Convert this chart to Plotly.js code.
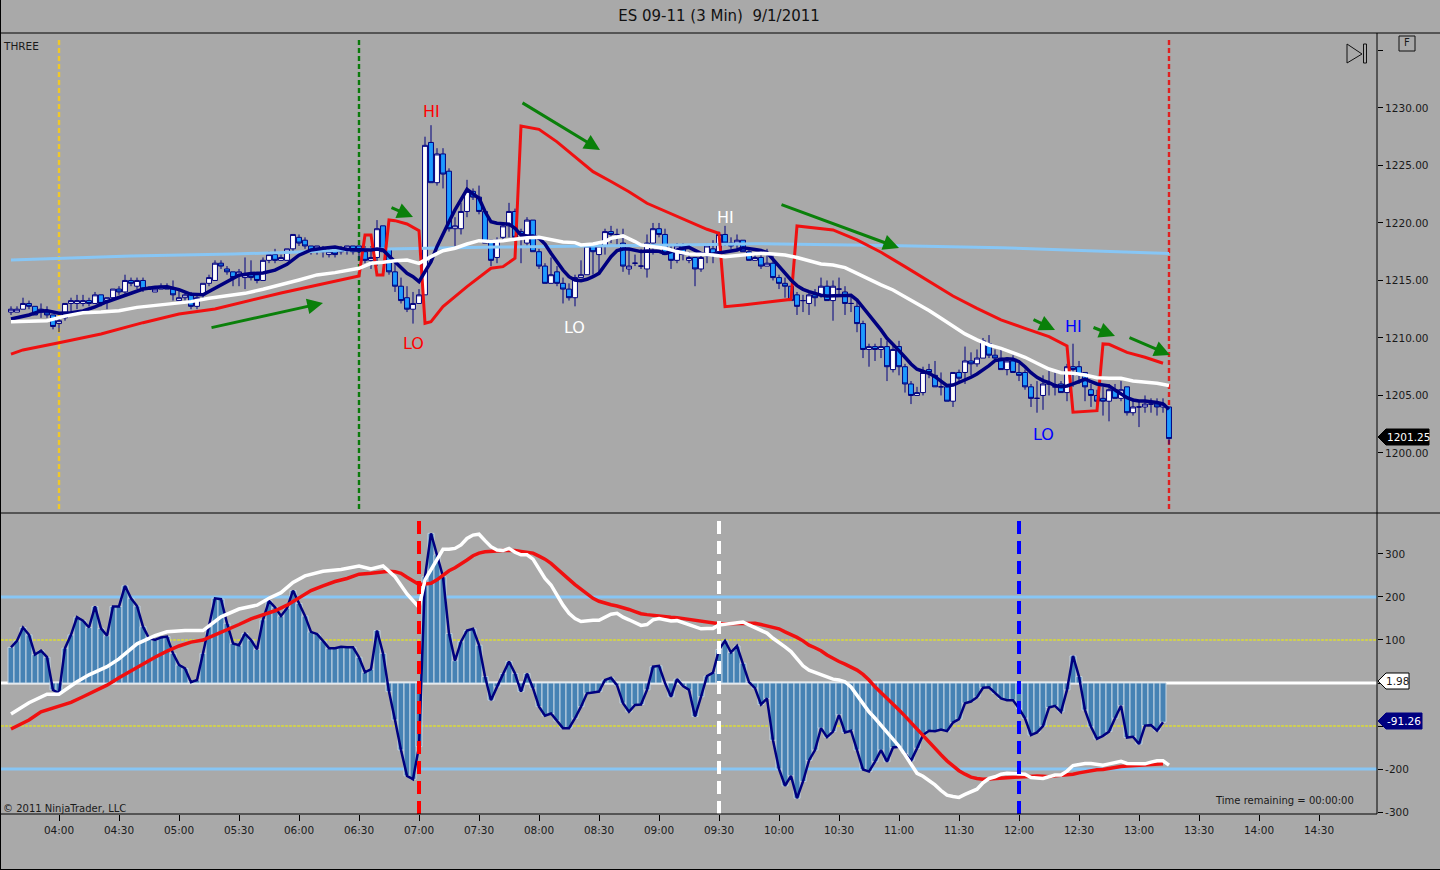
<!DOCTYPE html>
<html><head><meta charset="utf-8">
<script src="https://cdn.plot.ly/plotly-3.0.1.min.js"></script>
<style>html,body{margin:0;padding:0;background:#A9A9A9;overflow:hidden}#c{width:1440px;height:870px}</style>
</head><body><div id="c"></div>
<script>
// ---- time scale: bar number -> minutes after midnight
const firstBarMinute = 216, barMinutes = 3;
const barTime = k => firstBarMinute + barMinutes * k;

// ---- candles
const opens = [1212.25,1212.25,1212.5,1213,1212.75,1212.25,1212.25,1212,1211.25,1211.75,
1213,1213,1213,1213.25,1213,1213.75,1213.25,1213.5,1214.25,1214,
1215,1214.5,1215,1214.25,1214,1214.25,1214.5,1214.25,1213.25,1213.5,
1213.75,1212.75,1213.75,1214.75,1215,1216.5,1216,1215.75,1215.5,1215.25,
1215.5,1215.5,1215,1216.75,1217.25,1216.75,1216.75,1217.75,1218.75,1218.5,
1218,1217.75,1217.75,1217.25,1217.5,1217.5,1217.75,1218,1218,1217.5,
1216.75,1217,1219.75,1217.75,1215.75,1214.5,1213.5,1212.5,1213,1213.75,
1227,1223.5,1226,1224.5,1219.5,1219.5,1221,1222.75,1222.25,1221,
1218.5,1217,1218.75,1219.75,1221,1219.25,1218.25,1220.25,1217.5,1216.25,
1214.75,1215.75,1214.75,1214.25,1213.5,1215.25,1215.5,1218,1217.25,1218,
1219.25,1219,1218.25,1216,1216.5,1216.25,1216,1218.25,1219.5,1219,
1217.5,1216.75,1218,1216.75,1217,1216,1217.25,1217.75,1217.5,1219,
1218.25,1218.25,1218.5,1217.5,1216.75,1217,1216.25,1216.5,1215.25,1214.75,
1214.5,1213.75,1213.25,1213,1213.75,1213.75,1214.5,1213.25,1214.25,1214,
1213,1212.75,1211.25,1209,1209.25,1209,1209.25,1207.25,1209.25,1207.5,
1206,1205,1205.25,1207.25,1206.75,1205.75,1205.75,1204.5,1207,1207,
1208,1207.75,1208.25,1209.5,1208.5,1208.25,1207.25,1208,1207,1207,
1205.75,1204.75,1205,1206,1205.75,1206,1205.25,1207.5,1207.5,1207,
1205.5,1205,1204.75,1204.5,1205.5,1204.75,1205.75,1203.5,1204,1204,
1204.25,1204.25,1204,1204];
const highs = [1212.75,1212.75,1213.5,1213.25,1212.75,1213,1212.75,1212,1211.75,1213,
1213.5,1213.75,1213.75,1213.5,1214,1213.75,1213.5,1214.25,1214.5,1215.5,
1215.25,1215.25,1215.25,1214.5,1214.5,1214.75,1214.75,1215,1214.25,1214,
1214,1213.75,1214.75,1215.5,1216.75,1216.75,1216.25,1215.75,1216,1217,
1216.75,1215.75,1217,1217.5,1217.75,1217.25,1217.75,1219,1219,1218.75,
1218,1218,1218,1217.75,1218,1218,1218,1218,1218,1218,
1218,1220.25,1219.75,1217.75,1216.5,1215.25,1214.5,1214,1214.25,1227.5,
1228.5,1226.5,1226.5,1224.75,1220.5,1221.75,1223.75,1223,1223.25,1221,
1218.5,1218.75,1220,1221.75,1221.25,1219.5,1220.5,1220.25,1217.75,1216.5,
1217,1216.25,1215.25,1214.75,1215.5,1216.75,1218,1218.25,1218.25,1219.5,
1219.75,1219.5,1219.5,1217.75,1217.25,1217.75,1219,1220,1220,1219.5,
1218,1218.25,1218.25,1217.5,1217,1217.25,1218.25,1218.5,1219.25,1219.75,
1218.75,1219,1218.5,1217.75,1217.25,1217.5,1217.75,1217.25,1215.5,1215.25,
1214.5,1214,1213.75,1214,1214.25,1215.25,1215,1215,1215.25,1214.5,
1213.75,1213.25,1211.5,1209.5,1209.5,1210,1209.75,1209.5,1209.75,1207.75,
1206.25,1205.75,1207.5,1207.75,1208,1207,1205.75,1207,1207.25,1209.25,
1208.75,1209,1210,1210.25,1209,1209,1208.25,1208.5,1207.75,1207.25,
1206,1206.25,1206.75,1207.25,1207,1206.25,1207.75,1209.5,1208,1207,
1206,1205.5,1205.75,1206,1206,1206.25,1205.75,1204.75,1204.5,1205,
1204.75,1204.75,1204.75,1204];
const lows = [1212,1212.25,1212.5,1212.5,1212,1211.75,1211.75,1210.75,1210.5,1211.5,
1212,1212.5,1212.75,1212.75,1213,1212.75,1212.5,1213.25,1213.75,1213.75,
1214.5,1214.25,1214,1214.25,1214,1214.25,1214.25,1213.25,1213.25,1213.25,
1212.5,1212.5,1213.5,1214.5,1215,1216,1215.5,1214.5,1214.5,1214.25,
1215,1214.75,1215,1216.5,1216.5,1216.75,1216.75,1217.5,1218,1217.75,
1217.25,1217.25,1217,1217,1217,1217.25,1217.25,1217.25,1216.75,1216.5,
1216,1216.25,1217.5,1215.5,1214,1213,1212.25,1211.25,1213,1213.75,
1223.5,1223.25,1223,1219.25,1218,1219,1220.5,1222,1220.75,1218.25,
1216.25,1216.5,1218.5,1218.75,1218.75,1216.5,1218,1217.5,1216,1214.75,
1214.75,1214.5,1213,1213.25,1212.75,1215.25,1215.5,1215.5,1215.75,1217.25,
1218.25,1218,1215.75,1215.5,1216.25,1216,1215.25,1217.25,1218.75,1217.25,
1216,1216.5,1216.75,1216.5,1214.5,1215.75,1216.5,1216.5,1217,1218,
1217.75,1217.75,1217.5,1216.75,1216.75,1216,1216.25,1215,1214.25,1213.5,
1213.25,1212,1212.25,1212,1212.75,1213.5,1213.25,1211.5,1213.75,1212,
1212.25,1210.5,1208.25,1207.5,1208,1208.25,1206.25,1207,1206.75,1205.25,
1204.25,1205,1205,1206.5,1205.75,1205,1204.5,1204,1206.25,1206,
1206.75,1207.5,1208.25,1208.25,1208,1207.25,1206.75,1207,1206.25,1205.5,
1204,1203.5,1203.75,1205,1205,1205.25,1204.5,1205.75,1206,1204.5,
1204,1204.25,1203.25,1202.75,1204.75,1204.5,1203.25,1203.25,1202.25,1203.5,
1203.5,1203.25,1203.5,1200.75];
const closes = [1212.5,1212.5,1213,1212.75,1212,1212.5,1212,1211,1211.5,1213,
1213.25,1213.25,1213.25,1213,1213.75,1213,1213.5,1214.25,1214,1215,
1214.75,1215,1214.25,1214.25,1214.25,1214.5,1214.25,1213.75,1213.5,1213.75,
1212.75,1213.5,1214.75,1215.25,1216.5,1216.25,1215.75,1215.25,1215.75,1215.5,
1215.25,1215,1216.75,1217.25,1216.75,1217,1217.75,1219,1218.25,1218,
1217.5,1218,1217.5,1217.5,1217.25,1217.75,1218,1217.5,1217.5,1216.75,
1217,1219.5,1217.5,1215.75,1214.5,1213.25,1212.5,1213,1213.75,1226.75,
1223.5,1226,1224.25,1219.5,1219.75,1221,1222.75,1222.25,1221,1218.25,
1216.75,1218.5,1219.75,1221,1218.75,1219,1220.25,1217.5,1216.25,1214.75,
1215.5,1214.75,1214.25,1213.5,1215.25,1215.5,1218,1217.5,1218,1219.25,
1219,1219,1216.25,1216.25,1216.5,1216.25,1218.25,1219.5,1219,1217.25,
1216.75,1218,1217.25,1217,1216,1217,1218,1217.25,1219,1218.25,
1218,1218.5,1217.5,1216.75,1217,1216.25,1216.5,1215.25,1214.75,1214.5,
1213.25,1212.75,1213.25,1213.75,1213.5,1214.5,1213.25,1214.5,1214.25,1213,
1213,1211.25,1209,1209.25,1209,1209.25,1207.5,1209,1207.5,1206,
1205,1205.25,1207,1207,1205.75,1205.75,1204.5,1207,1206.5,1208,
1207.75,1208.25,1209.75,1208.5,1208.25,1207.25,1208,1207,1206.75,1205.75,
1204.75,1204.75,1206,1206,1205.75,1205.25,1207.5,1207.25,1206.75,1205.75,
1205,1204.5,1204.5,1205.5,1204.75,1205.5,1203.5,1204,1204,1204.25,
1204.25,1204,1204.25,1201.25];

// ---- price panel lines (bar numbers and prices)
const skyBars = [0,20,37,47,58,68,81,114,124,146,165,182,193];
const skyPrices = [1216.78,1217.13,1217.3,1217.45,1217.7,1217.8,1217.9,1218.1,1218.2,1218.05,1217.85,1217.55,1217.35];

const navyBars = [0,3,5,6,8,10,12,14,16,18,20,22,24,26,28,30,32,34,36,38,40,42,44,46,48,50,52,54,56,58,
59,60,61,62,63,64,65,66,67,68,69,70,71,72,73,74,75,76,77,78,79,80,81,82,83,84,85,86,87,88,89,90,91,92,93,94,95,96,97,98,99,100,
101,102,103,104,105,106,107,108,109,110,111,112,113,114,115,116,117,118,119,120,121,122,123,124,125,126,127,128,129,130,
131,132,133,134,135,136,137,138,139,140,141,142,143,144,145,146,147,148,149,150,151,152,153,154,155,156,157,158,159,160,
161,162,163,164,165,166,167,168,169,170,171,172,173,174,175,176,177,178,179,180,181,182,183,184,185,186,187,188,189,190,191,192,193];
const navyPrices = [1211.65,1212,1212.35,1212.37,1212.15,1212.2,1212.35,1212.7,1213.15,1213.5,1213.9,1214.25,1214.4,1214.45,1214.2,1213.8,1213.75,1214.3,1214.9,1215.45,1215.6,1215.65,1215.9,1216.4,1217.2,1217.65,1217.8,1217.9,1217.7,1217.65,
1217.65,1217.65,1217.74,1217.65,1217.13,1216.63,1216.06,1215.62,1215.33,1214.9,1215.77,1216.63,1217.94,1219.1,1220.1,1221.13,1222,1222.93,1222.52,1222.15,1220.99,1220.1,1219.97,1219.97,1219.9,1219.54,1218.96,1218.87,1218.87,1218.67,1218.17,1217.36,1216.63,1215.9,1215.33,1215.04,1214.98,1215.1,1215.33,1215.62,1216.35,1217.07,
1217.59,1217.74,1217.74,1217.59,1217.51,1217.56,1217.56,1217.53,1217.36,1217.51,1217.65,1217.8,1217.88,1217.59,1217.36,1217.22,1217.3,1217.4,1217.45,1217.6,1217.65,1217.85,1217.8,1217.7,1217.6,1217.42,1216.84,1216.2,1215.62,1215.04,
1214.55,1214.23,1214.03,1213.83,1213.71,1213.65,1213.65,1213.65,1213.71,1213.71,1213.3,1212.67,1212,1211.42,1210.7,1209.97,1209.48,1208.9,1208.32,1207.74,1207.28,1207.13,1206.93,1206.64,1206.26,1205.86,1205.91,1206.12,1206.41,1206.58,
1206.87,1207.22,1207.6,1208.03,1208.15,1208.2,1208.15,1207.94,1207.5,1206.98,1206.58,1206.29,1206.12,1205.86,1205.77,1205.83,1206,1206.2,1206.41,1206.2,1206,1205.91,1205.83,1205.48,1205.13,1204.81,1204.61,1204.52,1204.52,1204.46,1204.38,1204.26,1203.8];

const whiteBars = [0,3,6,9,12,15,18,21,24,27,30,33,36,39,42,45,48,51,54,58,60,62,64,66,68,70,72,74,76,78,80,82,84,86,88,90,92,94,95,97,99,100,102,104,105,107,109,111,113,115,117,
119,121,123,125,127,129,131,133,135,137,139,141,143,145,147,149,151,153,155,157,159,161,163,165,167,169,171,173,175,177,179,181,183,185,187,189,191,193];
const whitePrices = [1211.42,1211.45,1211.5,1211.9,1212.2,1212.26,1212.37,1212.66,1212.81,1212.96,1213.16,1213.45,1213.65,1213.88,1214.23,1214.6,1215.04,1215.48,1215.68,1216.06,1216.49,1216.58,1216.72,1216.78,1216.49,1217.07,1217.59,1217.8,1218.17,1218.46,1218.38,1218.46,1218.6,1218.72,1218.75,1218.58,1218.35,1218.29,1218.09,1218.17,1218.38,1218.67,1218.87,1218.38,1218.09,1217.94,1217.8,1217.51,1217.3,1217.28,1217.22,
1217.07,1217.16,1217.22,1217.36,1217.3,1217.22,1216.99,1216.7,1216.43,1216.35,1216.12,1215.62,1215.1,1214.61,1214.17,1213.59,1213.01,1212.38,1211.71,1210.99,1210.35,1209.83,1209.39,1209.1,1208.72,1208.32,1207.8,1207.3,1206.98,1206.93,1206.78,1206.55,1206.49,1206.49,1206.26,1206.14,1206.06,1205.86];

const redBars = [0,2,8,15,22,28,34,45,58,59,60,61,62,63,64,66,68,69,70,72,76,80,82,84,85,88,91,94,97,100,103,106,110,113,116,118,119,122,128,130,131,133,137,141,145,149,153,157,161,165,169,173,176,177,181,182,183,186,189,192];
const redPrices = [1208.6,1208.96,1209.59,1210.35,1211.33,1212.09,1212.52,1213.91,1215.39,1218.96,1218.96,1215.48,1215.48,1220.26,1220.2,1219.91,1219.33,1211.28,1211.42,1212.72,1214.46,1216.06,1216.2,1216.93,1228.43,1228.14,1227.05,1225.78,1224.46,1223.6,1222.72,1221.71,1220.78,1220.11,1219.45,1219.1,1212.72,1212.87,1213.22,1213.36,1219.74,1219.63,1219.39,1218.52,1217.45,1216.2,1214.9,1213.65,1212.58,1211.57,1210.84,1210.11,1209.3,1203.54,1203.68,1209.48,1209.45,1208.75,1208.32,1207.8];

// ---- oscillator histogram, bar 0 to 192
const cci = [83,98,129,112,66,75,60,-16,-24,81,112,153,145,129,178,127,110,178,178,226,197,179,131,104,100,106,108,69,42,34,
2,7,69,131,197,195,139,92,88,115,100,78,147,191,176,156,174,215,185,156,119,114,98,81,81,84,83,83,60,25,
32,122,69,-20,-86,-156,-216,-224,-148,247,348,298,247,115,52,96,122,126,88,15,-40,-9,22,50,22,-20,22,-12,-55,-76,
-71,-88,-105,-105,-82,-55,-24,-22,-20,7,12,-5,-47,-67,-51,-50,-16,38,40,0,-32,9,-7,-16,-78,-32,16,24,78,98,
71,86,46,2,-12,-50,-36,-133,-200,-239,-216,-268,-229,-180,-156,-105,-126,-113,-74,-115,-111,-156,-201,-206,-183,-156,-183,-150,-148,-164,
-181,-152,-121,-111,-112,-108,-112,-92,-84,-47,-43,-33,-11,-10,-24,-36,-40,-40,-59,-82,-121,-115,-100,-57,-53,-67,-16,63,15,-63,
-102,-130,-123,-113,-82,-53,-127,-125,-142,-99,-98,-111,-91.26];

const cciWhiteBars = [0,3,6,8,11,13,16,18,21,24,26,29,32,33,35,38,41,43,45,47,49,52,55,58,60,62,64,66,68,69,71,72,73,74,75,76,77,78,79,80,81,82,83,84,85,86,87,88,89,90,91,92,93,94,95,96,97,98,99,100,101,102,103,104,105,106,107,108,109,110,111,112,113,114,115,116,117,118,119,120,121,122,123,124,125,126,127,128,
129,130,131,132,133,134,135,136,137,138,139,140,141,142,143,144,145,146,147,148,149,150,151,152,153,154,155,156,157,158,159,160,161,162,163,164,165,166,167,168,169,170,171,172,173,174,175,176,177,178,179,180,181,182,183,184,185,186,187,188,189,190,191,192,193];
const cciWhite = [-72,-46,-26,-26,3,19,38,56,91,110,119,122,122,133,154,172,181,197,210,234,249,260,264,272,265,272,247,207,176,240,286,311,311,313,321,336,344,346,331,317,309,308,313,304,298,298,288,267,243,228,205,181,162,150,143,145,146,146,154,160,162,153,147,140,134,136,147,150,148,144,145,140,136,129,126,127,127,135,137,139,141,142,135,129,123,116,104,95,
84,73,55,40,30,25,19,13,9,7,3,-9,-28,-47,-67,-82,-98,-115,-130,-147,-167,-188,-210,-217,-226,-237,-250,-261,-264,-266,-259,-253,-247,-232,-222,-218,-212,-210,-210,-212,-212,-220,-222,-222,-218,-214,-214,-205,-192,-189,-187,-187,-188,-191,-188,-186,-182,-187,-188,-188,-188,-184,-181,-181,-191];

const cciRedBars = [0,3,5,6,8,10,12,14,16,18,20,22,24,26,28,30,32,34,36,38,40,42,44,46,48,50,52,54,56,58,60,62,63,64,65,66,67,68,69,70,71,72,73,74,75,76,77,78,79,80,81,82,83,84,85,86,87,88,89,90,91,92,93,94,95,96,97,98,99,100,101,102,103,104,105,106,107,108,109,110,111,112,113,114,115,116,117,118,119,120,121,122,123,124,125,126,127,128,129,130,131,132,133,134,135,136,
137,138,139,140,141,142,143,144,145,146,147,148,149,150,151,152,153,154,155,156,157,158,159,160,161,162,163,164,165,166,167,168,169,170,171,172,173,174,175,176,177,178,179,180,181,182,183,184,185,186,187,188,189,190,191,192];
const cciRed = [-107,-86,-67,-63,-55,-45,-32,-18,-5,12,28,46,60,74,86,95,100,112,123,136,149,158,168,181,197,215,226,236,243,253,255,259,260,259,255,246,237,229,230,232,240,251,261,268,276,286,296,302,305,307,307,308,309,308,306,305,302,295,288,278,265,253,241,229,218,207,197,190,185,182,179,176,171,166,161,159,157,155,153,153,152,150,147,145,143,141,139,138,138,138,138,138,139,139,136,133,129,126,119,113,106,98,88,82,75,65,
57,50,44,38,30,20,7,-9,-22,-36,-49,-63,-77,-92,-108,-123,-139,-154,-167,-181,-193,-204,-212,-219,-222,-224,-223,-222,-220,-219,-218,-217,-216,-216,-216,-217,-218,-216,-215,-214,-212,-209,-206,-204,-202,-201,-198,-196,-194,-193,-192,-191,-191,-189,-188,-188];

// ---- axis labels and reference levels
const timeTickMinutes = [240,270,300,330,360,390,420,450,480,510,540,570,600,630,660,690,720,750,780,810,840,870];
const timeTickLabels = ["04:00","04:30","05:00","05:30","06:00","06:30","07:00","07:30","08:00","08:30","09:00","09:30","10:00","10:30","11:00","11:30","12:00","12:30","13:00","13:30","14:00","14:30"];
const priceTicks = [1200,1205,1210,1215,1220,1225,1230,1235];
const priceTickLabels = ["1200.00","1205.00","1210.00","1215.00","1220.00","1225.00","1230.00",""];
const oscTicks = [-300,-200,-100,0,100,200,300];
const oscTickLabels = ["-300","-200","","","100","200","300"];
const skyLevels = [200,-200];
const yellowLevels = [100,-100];
const zeroLevel = 0;

// ---- session and marker verticals
const priceMarkerMinutes = [240,390,795];
const priceMarkerColors = ["#F0C828","#0A7A0A","#E02020"];
const oscMarkerMinutes = [420,570,720];
const oscMarkerColors = ["#FF0000","#FFFFFF","#0000FF"];

// ---- trend arrows: minutes and prices of tail and head
const arrowTailMinutes = [315.5,405.5,471,600.5,726.5,756.5,774.5];
const arrowTailPrices = [1210.87,1221.39,1230.52,1221.65,1211.65,1210.96,1210.09];
const arrowHeadMinutes = [372,417,510.5,660,738,768,795.5];
const arrowHeadPrices = [1213.04,1220.52,1226.35,1217.83,1210.7,1210.17,1208.52];

// ---- HI/LO labels
const labelTexts = ["HI","LO","HI","LO","HI","LO"];
const labelColors = ["#FF0000","#FF0000","#FFFFFF","#FFFFFF","#0000FF","#0000FF"];
const labelMinutes = [426,417,573,497.5,747,732];
const labelPrices = [1229.65,1209.5,1220.5,1210.9,1211,1201.6];

// ---- chrome helpers (pixel to paper)
const W = 1440, H = 870;
const px = v => v / W, py = v => 1 - v / H;
const paperPath = pts => 'M' + pts.map(p => px(p[0]) + ',' + py(p[1])).join(' L') + ' Z';
const NAVY = '#00007F', UI = 'DejaVu Sans', TXT = '#1a1a1a';

const bars = k => k.map(barTime);
const allBars = opens.map((_, i) => barTime(i));

const traces = [
  {type:'scatter',mode:'lines',x:bars(skyBars),y:skyPrices,xaxis:'x2',yaxis:'y2',line:{color:'#87C6F5',width:3}},
  {type:'scatter',mode:'lines',x:bars(redBars),y:redPrices,xaxis:'x2',yaxis:'y2',line:{color:'#F01010',width:3}},
  {type:'candlestick',x:allBars,open:opens,high:highs,low:lows,close:closes,xaxis:'x2',yaxis:'y2',whiskerwidth:0,
    increasing:{line:{color:NAVY,width:1},fillcolor:'#FFFFFF'},
    decreasing:{line:{color:NAVY,width:1},fillcolor:'#1E9BFF'}},
  {type:'scatter',mode:'lines',x:bars(navyBars),y:navyPrices,xaxis:'x2',yaxis:'y2',line:{color:NAVY,width:3.5}},
  {type:'scatter',mode:'lines',x:bars(whiteBars),y:whitePrices,xaxis:'x2',yaxis:'y2',line:{color:'#FFFFFF',width:3.5}},
  {type:'bar',x:cci.map((_, i) => barTime(i)),y:cci,width:barMinutes,xaxis:'x',yaxis:'y',
    marker:{color:'#4682B4',line:{color:'#C4D4E2',width:1}}},
  {type:'scatter',mode:'lines',x:cci.map((_, i) => barTime(i)),y:cci,xaxis:'x',yaxis:'y',line:{color:NAVY,width:2.5}},
  {type:'scatter',mode:'lines',x:bars(cciRedBars),y:cciRed,xaxis:'x',yaxis:'y',line:{color:'#F01010',width:3.5}},
  {type:'scatter',mode:'lines',x:bars(cciWhiteBars),y:cciWhite,xaxis:'x',yaxis:'y',line:{color:'#FFFFFF',width:3.5}}
];

const shapes = [];
skyLevels.forEach(v => shapes.push({type:'line',xref:'x',yref:'y',x0:211,x1:899,y0:v,y1:v,layer:'below',line:{color:'#87C6F5',width:3}}));
yellowLevels.forEach(v => shapes.push({type:'line',xref:'x',yref:'y',x0:211,x1:899,y0:v,y1:v,layer:'below',line:{color:'#F2F200',width:1,dash:'3px,1px'}}));
shapes.push({type:'line',xref:'x',yref:'y',x0:211,x1:899,y0:zeroLevel,y1:zeroLevel,layer:'below',line:{color:'#FFFFFF',width:3}});
priceMarkerMinutes.forEach((t,i) => shapes.push({type:'line',xref:'x2',yref:'paper',x0:t,x1:t,y0:py(509),y1:py(38),layer:'below',line:{color:priceMarkerColors[i],width:2.4,dash:'5px,3px'}}));
oscMarkerMinutes.forEach((t,i) => shapes.push({type:'line',xref:'x',yref:'paper',x0:t,x1:t,y0:py(814),y1:py(519),line:{color:oscMarkerColors[i],width:4,dash:'13px,7px'}}));
// frame
[[0,33,1440,33],[0,513,1440,513],[1,814,1377,814],[1377,33,1377,814],[0.5,0,0.5,870],[0,869.5,1440,869.5]].forEach(s =>
  shapes.push({type:'line',xref:'paper',yref:'paper',x0:px(s[0]),x1:px(s[2]),y0:py(s[1]),y1:py(s[3]),line:{color:'#000000',width:1}}));
// flags
shapes.push({type:'path',xref:'paper',yref:'paper',path:paperPath([[1378,437],[1386,429],[1429,429],[1429,445],[1386,445]]),fillcolor:'#000000',line:{color:'#000000',width:1}});
shapes.push({type:'path',xref:'paper',yref:'paper',path:paperPath([[1378,681],[1386,673],[1409,673],[1409,689],[1386,689]]),fillcolor:'#FFFFFF',line:{color:'#000000',width:1}});
shapes.push({type:'path',xref:'paper',yref:'paper',path:paperPath([[1378,721],[1386,713],[1422,713],[1422,729],[1386,729]]),fillcolor:'#000080',line:{color:'#000080',width:1}});
// F button and jump-to-end icon
shapes.push({type:'rect',xref:'paper',yref:'paper',x0:px(1399),x1:px(1415),y0:py(51),y1:py(36),line:{color:'#111',width:1}});
shapes.push({type:'path',xref:'paper',yref:'paper',path:paperPath([[1347,44],[1347,63],[1362,54]]),line:{color:'#111',width:1}});
shapes.push({type:'rect',xref:'paper',yref:'paper',x0:px(1363.5),x1:px(1366.5),y0:py(63),y1:py(44),line:{color:'#111',width:1}});

const paperText = (text,x,y,size,color,anchor) => ({xref:'paper',yref:'paper',x:px(x),y:py(y),text,showarrow:false,xanchor:anchor||'left',yanchor:'middle',font:{family:UI,size,color}});
const annotations = [
  paperText('THREE',1,46,10.5,TXT),
  paperText('© 2011 NinjaTrader, LLC',1,808,10,TXT),
  paperText('Time remaining = 00:00:00',1284,800,10,TXT,'center'),
  paperText('F',1407,43,10,TXT,'center'),
  paperText('1201.25',1408,437,10.5,'#FFFFFF','center'),
  paperText('1.98',1397,681,10.5,TXT,'center'),
  paperText('-91.26',1403.5,721,10.5,'#FFFFFF','center')
];
labelTexts.forEach((t,i) => annotations.push({xref:'x2',yref:'y2',x:labelMinutes[i],y:labelPrices[i],text:t,showarrow:false,font:{family:UI,size:16,color:labelColors[i]}}));
arrowTailMinutes.forEach((t,i) => annotations.push({xref:'x2',yref:'y2',axref:'x2',ayref:'y2',x:arrowHeadMinutes[i],y:arrowHeadPrices[i],ax:t,ay:arrowTailPrices[i],text:'',showarrow:true,arrowhead:2,arrowsize:1.05,arrowwidth:3,arrowcolor:'#0A800A',standoff:0}));

const tickF = {family:UI,size:10.5,color:TXT};
const layout = {
  width:W,height:H,margin:{l:0,r:0,t:0,b:0},paper_bgcolor:'#A9A9A9',plot_bgcolor:'#A9A9A9',showlegend:false,dragmode:false,
  title:{text:'ES 09-11 (3 Min)\u00a0\u00a09/1/2011',x:719/W,xanchor:'center',y:1-16/H,yanchor:'middle',font:{family:UI,size:15,color:'#111'}},
  boxgap:0.1,boxgroupgap:0.1,barmode:'overlay',
  xaxis:{domain:[px(1),px(1377)],range:[211,899],anchor:'y',tickmode:'array',tickvals:timeTickMinutes,ticktext:timeTickLabels,ticks:'outside',ticklen:6,tickcolor:'#000',tickfont:tickF,showgrid:false,zeroline:false,showline:false},
  yaxis:{domain:[py(814),py(514)],range:[-304.65,393],anchor:'x',side:'right',tickmode:'array',tickvals:oscTicks,ticktext:oscTickLabels,ticks:'outside',ticklen:5,tickcolor:'#000',tickfont:tickF,showgrid:false,zeroline:false,showline:false},
  xaxis2:{domain:[px(1),px(1377)],range:[211,899],anchor:'y2',showticklabels:false,ticks:'',showgrid:false,zeroline:false,showline:false,rangeslider:{visible:false}},
  yaxis2:{domain:[py(513),py(34)],range:[1194.78,1236.43],anchor:'x2',side:'right',tickmode:'array',tickvals:priceTicks,ticktext:priceTickLabels,ticks:'outside',ticklen:5,tickcolor:'#000',tickfont:tickF,showgrid:false,zeroline:false,showline:false},
  shapes,annotations
};
Plotly.newPlot('c',traces,layout,{staticPlot:true,displayModeBar:false});
</script></body></html>
